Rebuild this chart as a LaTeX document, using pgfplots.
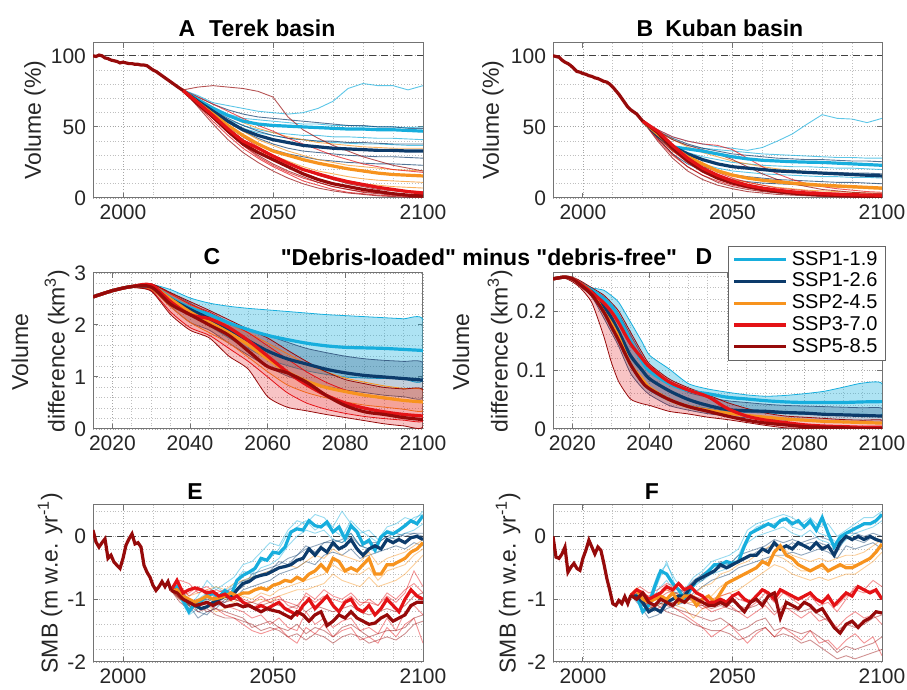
\documentclass[border=0pt]{standalone}
\usepackage{fontspec}
\setmainfont{Liberation Sans}
\usepackage{pgfplots}
\pgfplotsset{compat=1.18}
\usepackage{pgfplotstable}

\definecolor{clb}{RGB}{23,174,221}
\definecolor{cdb}{RGB}{12,59,107}
\definecolor{cor}{RGB}{247,147,30}
\definecolor{crd}{RGB}{228,18,22}
\definecolor{cdr}{RGB}{150,10,10}

\pgfplotsset{
  panel/.style={
    scale only axis, anchor=south west,
    axis line style={black!55, line width=0.5pt},
    tick style={black!55, line width=0.5pt},
    major tick length=2.5pt, minor tick length=0pt, tick align=inside,
    ticklabel style={font=\fontsize{10.5}{12}\selectfont, text=black!85},
    /pgf/number format/assume math mode=true,
    /pgf/number format/1000 sep={},
    grid=both,
    major grid style={black!35, densely dotted, line width=0.4pt},
    minor grid style={black!25, densely dotted, line width=0.4pt},
  },
  mean/.style={line width=1.6pt},
  band/.style={line width=0.4pt, smooth, tension=0.4, forget plot},
  zeroline/.style={black!75, dash pattern=on 3.5pt off 2.5pt, line width=0.5pt, forget plot},
}
% thin ensemble member: [opacity]{table}{colour}{column}
\newcommand{\thin}[4][0.7]{\addplot[#3, line width=0.45pt, opacity=#1, forget plot] table[x=x, y=#4] {#2};}

% ---------- A: Terek volume (%) ----------
\pgfplotstableread{
x a b c d m
2020 76 76 76 76 75.6
2025 72 70 68 67 69
2030 67 64 61 59 63
2035 65 59 55 53 58
2040 63 56 51 49 54
2045 61 55 48 46 52
2050 60 54 46 44 51
2055 59 53 45 42 50.5
2060 60 52 44 41 50
2065 63 52 44 40 49.5
2070 68 51 43 39 49
2075 77 51 43 38.5 48.5
2080 80.5 50.5 42.5 38 48.5
2085 79 50 42 38 48
2090 79 50 42 37.5 48
2095 76 49.5 41.5 37 47.5
2100 79 50 41 37 47
}\Alb
\pgfplotstableread{
x a b c d m
2020 76 76 76 76 75.6
2025 71 69 68 67 68
2030 66 62 60 58 61
2035 62 56 53 50 54
2040 59 51 47 43 48
2045 57 47 42 38 44
2050 56 44 38 34 41
2055 55 42 35 31 39
2060 54 41 33 29 37
2065 53 40 32 27 36
2070 52 40 31 26 35
2075 51 39 30 25 34.5
2080 51 39 29.5 24.5 34
2085 50 38.5 29 24 33.5
2090 50 38 29 24 33.5
2095 49 38 28.5 23.5 33
2100 49 38 28 23 33
}\Adb
\pgfplotstableread{
x a b c d m
2020 76 76 76 76 75.6
2025 70 68 67 66 67
2030 64 61 58 56 59
2035 58 54 49 47 51
2040 53 47 41 39 44
2045 49 41 35 33 38
2050 46 37 30 28 33
2055 43 33 26 24 30
2060 41 30 22 20 27
2065 39 27 19 17 24.5
2070 38 25 17 14 22.5
2075 37 23 15 12 20.5
2080 36 22 13.5 10 19
2085 35.5 21 12.5 9 17.5
2090 35 20 12 8 16.5
2095 35 19.5 11.5 7.5 16
2100 35 19 11 7 15.5
}\Aor
\pgfplotstableread{
x a b c d m
2020 76 76 76 76 75.6
2025 71 68 66 65 67
2030 66 60 56 54 58
2035 61 51 46 44 48.5
2040 56 43 37 35 40
2045 51 36 29 28 35
2050 47 30 23 22 29.5
2055 42 25 18 17 24.5
2060 38 20 14 12 20
2065 34 16 11 9 17
2070 30 13 8 6 14
2075 27 10.5 6 4 11.5
2080 24 8.5 4.5 3 9.5
2085 22 7 3.5 2 7.5
2090 20 6 2.5 1.5 6
2095 19 5 2 1 4.5
2100 18 4.5 1.5 0.5 3.5
}\Ard
\pgfplotstableread{
x a b c d m
2020 76 76 76 76 75.6
2025 78 66 64 67 66
2030 79 56 52 58 57
2035 78 46 41 49 47
2040 77 37 32 41 38
2045 75 30 25 35 32
2050 71 24 19 29 27
2055 57 19 14 24 22
2060 48 15 10 20 17
2065 42 11 7 16 13
2070 37 8 5 13 10
2075 33 6 3.5 10 8
2080 29 4 2.5 8 6
2085 26 3 1.5 6 4.5
2090 23 2 1 5 3
2095 21 1.5 0.5 4 2
2100 19 1 0.3 3.5 1.5
}\Adr

% ---------- B: Kuban volume (%) ----------
\pgfplotstableread{
x a b c d m
2020 54 54 54 54 54
2025 48 47 45 43 45
2030 43 41 37 34 36
2035 40 37 32 28 34.5
2040 38 35 29 24 33
2045 36 34 27 21 31
2050 35 33 25 19 29
2055 33.5 32 24 18 27.5
2060 35.5 31 23 17 26.5
2065 40 30.5 22.5 16.5 26
2070 45 30 22 16 25.5
2075 52 29.5 22 15.5 25.2
2080 58.6 29 21.5 15 25
2085 56 28.5 21 15 24.5
2090 55.5 28.5 21 14.5 24
2095 53 28 20.5 14.5 23.5
2100 56 28 20 14 23
}\Blb
\pgfplotstableread{
x a b c d m
2020 54 54 54 54 54
2025 47 45 43 42 44
2030 42 37 33 31 36
2035 38 31 27 24 31
2040 35 27 22 19 27
2045 33 24 19 15.5 24
2050 31 22 16.5 13 22
2055 30 21 15 11.5 21
2060 29 20 14 10.5 20
2065 28 19.5 13 10 19
2070 27.5 19 12.5 9.5 18.5
2075 27 18.5 12 9 18
2080 27 18 11.5 8.5 17.5
2085 26.5 18 11 8 17
2090 26 17.5 11 8 16.5
2095 26 17.5 10.5 7.5 16
2100 25.5 17 10 7 15.5
}\Bdb
\pgfplotstableread{
x a b c d m
2020 54 54 54 54 54
2025 47 45 43 44 45
2030 41 37 33 35 36
2035 36 30 26 28 29
2040 32 24 20 23 24
2045 29 20 16 19 19
2050 26 17 13 16 16
2055 24 14.5 11 13.5 14
2060 22 13 9 12 12.5
2065 20.5 11.5 7.5 10.5 11.5
2070 19.5 10.5 6.5 9.5 10.5
2075 18.5 9.5 5.5 8.5 9.7
2080 18 9 5 8 9
2085 17.5 8.5 4.5 7.5 8.5
2090 17 8 4 7 8
2095 16.5 7.5 3.5 6.5 7.5
2100 16 7 3.5 6 7
}\Bor
\pgfplotstableread{
x a b c d m
2020 54 54 54 54 54
2025 48 43 41 45 47
2030 43 33 30 36 37
2035 40 25 22 29 28
2040 38 19 16 23 21
2045 37 15 12 18 16
2050 34 12 9 14 12
2055 28 9.5 7 11 9
2060 22 7.5 5 9 7
2065 17 6 4 7 5.5
2070 13 5 3 6 4.3
2075 10 4 2 5 3.5
2080 8 3.5 1.5 4 3
2085 6.5 3 1 3.5 2.6
2090 5.5 2.5 1 3 2.3
2095 4.5 2 0.7 2.5 2.1
2100 4 2 0.5 2 1.9
}\Brd
\pgfplotstableread{
x a b c d m
2020 54 54 54 54 54
2025 47 42 40 44 46
2030 41 31 28 34 35
2035 37 22 19 26 26
2040 34 16 13 20 19
2045 31 11 9 15 14
2050 27 8 6.5 11 10.5
2055 22 6 4.5 8 8
2060 17 4.5 3.5 6 6
2065 13 3.5 2.5 4.5 4.5
2070 10 2.5 2 3.5 3.5
2075 8 2 1.5 2.5 2.7
2080 6 1.5 1 2 2.2
2085 5 1 0.7 1.5 1.8
2090 4 0.8 0.5 1.2 1.5
2095 3.5 0.6 0.4 1 1.2
2100 3 0.5 0.3 0.8 1
}\Bdr

% ---------- C / D: ensemble means of the volume difference (km3) ----------
\pgfplotstableread{
x lb db or rd dr
2015 2.54 2.54 2.54 2.54 2.54
2020 2.66 2.66 2.66 2.66 2.66
2025 2.74 2.74 2.74 2.74 2.74
2030 2.75 2.74 2.75 2.77 2.73
2035 2.52 2.50 2.50 2.45 2.40
2040 2.33 2.30 2.25 2.20 2.20
2045 2.20 2.12 2.05 2.12 2.00
2050 2.04 1.92 1.85 1.95 1.80
2055 1.91 1.70 1.62 1.70 1.50
2060 1.80 1.50 1.35 1.40 1.20
2065 1.72 1.35 1.10 1.10 1.08
2070 1.65 1.25 0.92 0.85 0.90
2075 1.60 1.15 0.80 0.65 0.65
2080 1.57 1.08 0.72 0.50 0.45
2085 1.56 1.03 0.65 0.40 0.33
2090 1.55 1.00 0.60 0.33 0.28
2095 1.53 0.97 0.55 0.28 0.22
2100 1.51 0.94 0.52 0.25 0.18
}\Cmean
\pgfplotstableread{
x lb db or rd dr
2015 0.255 0.255 0.255 0.255 0.255
2018 0.258 0.258 0.258 0.258 0.258
2020 0.255 0.255 0.255 0.255 0.255
2022 0.247 0.247 0.247 0.247 0.245
2025 0.236 0.233 0.232 0.232 0.228
2028 0.222 0.210 0.200 0.215 0.200
2030 0.210 0.190 0.180 0.200 0.175
2032 0.190 0.165 0.155 0.180 0.150
2035 0.150 0.125 0.110 0.145 0.110
2038 0.115 0.100 0.085 0.120 0.080
2040 0.098 0.085 0.070 0.105 0.068
2045 0.077 0.065 0.050 0.080 0.050
2050 0.065 0.050 0.038 0.066 0.038
2055 0.060 0.040 0.032 0.055 0.030
2060 0.054 0.033 0.027 0.035 0.022
2065 0.051 0.031 0.023 0.022 0.015
2070 0.048 0.030 0.020 0.015 0.010
2075 0.046 0.028 0.017 0.011 0.007
2080 0.045 0.027 0.015 0.007 0.004
2085 0.045 0.025 0.013 0.005 0.003
2090 0.045 0.024 0.012 0.004 0.002
2095 0.046 0.023 0.011 0.003 0.001
2100 0.0465 0.022 0.010 0.003 0.001
}\Dmean

% ---------- E / F: SMB means (2-yearly) ----------
\pgfplotstableread{
x lb db or rd dr
2016 -0.86 -0.86 -0.86 -0.86 -0.86
2018 -0.80 -0.85 -0.85 -0.70 -0.90
2020 -1.02 -0.95 -0.95 -0.90 -1.00
2022 -1.20 -1.05 -1.00 -0.85 -1.05
2024 -1.07 -1.10 -1.05 -0.82 -1.10
2026 -1.04 -1.15 -1.00 -0.85 -1.08
2028 -0.94 -1.12 -0.95 -0.90 -1.05
2030 -0.91 -1.05 -1.00 -0.88 -1.10
2032 -0.96 -1.00 -0.98 -0.95 -1.05
2034 -0.86 -0.95 -0.95 -0.92 -1.12
2036 -0.94 -0.98 -0.90 -1.00 -1.10
2038 -0.70 -0.85 -0.95 -0.95 -1.08
2040 -0.62 -0.75 -0.90 -1.05 -1.12
2042 -0.57 -0.72 -0.90 -1.10 -1.10
2044 -0.51 -0.65 -0.85 -1.15 -1.15
2046 -0.35 -0.62 -0.82 -1.10 -1.20
2048 -0.38 -0.60 -0.85 -1.15 -1.15
2050 -0.25 -0.55 -0.78 -1.10 -1.18
2052 -0.27 -0.50 -0.75 -1.05 -1.20
2054 -0.17 -0.48 -0.70 -1.15 -1.25
2056  0.07 -0.45 -0.72 -1.20 -1.30
2058  0.12 -0.38 -0.65 -1.25 -1.20
2060  0.10 -0.35 -0.70 -1.10 -1.25
2062  0.25 -0.20 -0.60 -1.00 -1.35
2064  0.17 -0.30 -0.55 -1.15 -1.25
2066  0.15 -0.18 -0.45 -1.05 -1.20
2068  0.23 -0.25 -0.55 -0.95 -1.42
2070  0.07 -0.10 -0.35 -1.10 -1.35
2072  0.15 -0.20 -0.40 -1.20 -1.25
2074 -0.04 -0.15 -0.55 -1.05 -1.30
2076  0.17 -0.05 -0.50 -1.00 -1.20
2078  0.07 -0.20 -0.55 -1.15 -1.30
2080 -0.12 -0.30 -0.45 -1.20 -1.35
2082 -0.06 -0.20 -0.35 -1.10 -1.40
2084 -0.22 -0.15 -0.60 -1.25 -1.38
2086 -0.01 -0.20 -0.60 -1.15 -1.30
2088  0.07 -0.05 -0.45 -1.00 -1.25
2090  0.04 -0.10 -0.45 -1.10 -1.35
2092  0.10 -0.05 -0.40 -1.20 -1.30
2094  0.17 -0.10 -0.35 -1.00 -1.25
2096  0.25 -0.02 -0.25 -0.85 -1.10
2098  0.20  0.00 -0.20 -0.95 -1.05
2100  0.33 -0.05 -0.10 -1.00 -1.05
}\Emean
\pgfplotstableread{
x lb db or rd dr
2016 -0.94 -0.94 -0.94 -0.94 -0.94
2018 -0.95 -0.95 -0.85 -0.85 -1.00
2020 -1.20 -1.05 -1.00 -0.90 -0.90
2022 -1.10 -1.20 -1.05 -1.00 -1.05
2024 -0.80 -1.15 -1.00 -0.95 -1.10
2026 -0.55 -1.20 -0.95 -0.90 -1.00
2028 -0.60 -1.05 -1.00 -0.80 -1.05
2030 -0.75 -1.00 -0.90 -0.85 -1.10
2032 -0.85 -0.95 -1.05 -0.75 -1.00
2034 -1.00 -0.95 -0.95 -0.85 -1.05
2036 -0.85 -0.80 -0.95 -0.80 -0.95
2038 -0.70 -0.70 -1.10 -0.90 -1.00
2040 -0.65 -0.65 -1.00 -0.95 -1.05
2042 -0.55 -0.60 -0.95 -1.05 -1.10
2044 -0.45 -0.55 -1.05 -1.05 -1.10
2046 -0.45 -0.45 -0.90 -1.00 -1.05
2048 -0.40 -0.50 -0.75 -1.05 -1.10
2050 -0.43 -0.45 -0.70 -0.95 -1.00
2052 -0.40 -0.40 -0.65 -0.90 -1.10
2054 -0.15 -0.35 -0.60 -1.00 -1.20
2056  0.05 -0.30 -0.55 -1.05 -1.05
2058  0.10 -0.30 -0.50 -0.95 -1.00
2060  0.15 -0.20 -0.40 -0.85 -1.10
2062  0.20 -0.25 -0.45 -0.90 -0.95
2064  0.15 -0.10 -0.25 -1.00 -0.90
2066  0.25 -0.20 -0.15 -0.85 -1.30
2068  0.28 -0.15 -0.30 -0.90 -1.05
2070  0.20 -0.20 -0.35 -0.95 -1.10
2072  0.25 -0.10 -0.45 -1.00 -1.15
2074  0.15 -0.15 -0.50 -0.95 -1.05
2076  0.25 -0.20 -0.55 -0.90 -1.10
2078  0.10 -0.10 -0.50 -1.00 -1.20
2080  0.30 -0.20 -0.45 -1.05 -1.15
2082  0.05 -0.15 -0.55 -0.95 -1.30
2084 -0.17 -0.30 -0.50 -1.10 -1.45
2086 -0.01 -0.10 -0.45 -1.00 -1.54
2088  0.05  0.00 -0.50 -0.90 -1.40
2090  0.10 -0.05 -0.50 -0.95 -1.35
2092  0.15  0.00 -0.45 -0.80 -1.45
2094  0.20 -0.05 -0.40 -0.85 -1.35
2096  0.20  0.00 -0.35 -0.90 -1.30
2098  0.25 -0.05 -0.25 -0.85 -1.20
2100  0.35 -0.08 -0.12 -1.00 -1.22
}\Fmean

% ---------- E members (3-yearly) ----------
\pgfplotstableread{
x a b c
2016 -0.86 -0.86 -0.86
2019 -0.80 -1.00 -0.85
2022 -1.10 -1.25 -1.15
2025 -0.95 -1.15 -1.00
2028 -0.70 -1.00 -0.90
2031 -0.85 -1.05 -0.80
2034 -0.75 -0.95 -0.90
2037 -0.65 -0.90 -0.75
2040 -0.45 -0.70 -0.55
2043 -0.40 -0.65 -0.60
2046 -0.25 -0.50 -0.40
2049 -0.10 -0.45 -0.35
2052 -0.15 -0.35 -0.20
2055 0.10 -0.15 0.05
2058 0.25 0.00 0.15
2061 0.20 0.10 0.25
2064 0.35 0.05 0.10
2067 0.30 0.10 0.20
2070 0.15 -0.05 0.10
2073 0.40 -0.10 0.00
2076 0.20 0.05 0.25
2079 0.05 -0.15 0.10
2082 0.10 -0.20 0.00
2085 -0.05 -0.25 -0.10
2088 0.15 -0.05 0.10
2091 0.20 0.00 0.05
2094 0.30 0.05 0.20
2097 0.25 0.10 0.30
2100 0.40 0.20 0.35
}\Elb
\pgfplotstableread{
x a b c
2016 -0.86 -0.86 -0.86
2019 -0.85 -0.95 -0.90
2022 -1.00 -1.10 -1.10
2025 -1.20 -1.30 -1.05
2028 -1.25 -1.20 -1.05
2031 -1.10 -1.15 -0.95
2034 -1.05 -1.00 -0.90
2037 -0.90 -1.00 -0.80
2040 -0.80 -0.85 -0.70
2043 -0.60 -0.80 -0.70
2046 -0.55 -0.75 -0.60
2049 -0.50 -0.70 -0.55
2052 -0.45 -0.60 -0.40
2055 -0.35 -0.55 -0.45
2058 -0.30 -0.50 -0.30
2061 -0.20 -0.40 -0.15
2064 -0.15 -0.45 -0.25
2067 -0.10 -0.30 -0.10
2070 -0.05 -0.25 -0.10
2073 -0.10 -0.30 -0.05
2076 0.00 -0.20 0.05
2079 -0.15 -0.35 -0.15
2082 -0.10 -0.30 -0.20
2085 -0.10 -0.25 -0.10
2088 0.00 -0.20 0.00
2091 -0.05 -0.15 0.05
2094 0.05 -0.20 0.00
2097 0.05 -0.10 0.05
2100 0.00 -0.15 0.05
}\Edb
\pgfplotstableread{
x a b c
2016 -0.86 -0.86 -0.86
2019 -0.80 -1.00 -0.90
2022 -0.95 -1.10 -1.05
2025 -0.90 -1.15 -1.00
2028 -0.85 -1.10 -1.05
2031 -0.80 -1.20 -0.95
2034 -0.85 -1.15 -1.00
2037 -0.75 -1.10 -1.05
2040 -0.70 -1.10 -0.95
2043 -0.65 -1.05 -1.00
2046 -0.60 -1.00 -0.90
2049 -0.55 -1.05 -0.95
2052 -0.50 -0.95 -0.85
2055 -0.45 -0.90 -0.80
2058 -0.50 -0.85 -0.75
2061 -0.40 -0.85 -0.70
2064 -0.30 -0.80 -0.65
2067 -0.35 -0.75 -0.60
2070 -0.20 -0.60 -0.45
2073 -0.30 -0.70 -0.55
2076 -0.35 -0.75 -0.60
2079 -0.40 -0.80 -0.60
2082 -0.25 -0.65 -0.50
2085 -0.45 -0.80 -0.70
2088 -0.35 -0.75 -0.55
2091 -0.30 -0.70 -0.50
2094 -0.25 -0.60 -0.45
2097 -0.15 -0.45 -0.30
2100 -0.05 -0.30 -0.20
}\Eor
\pgfplotstableread{
x a b c d
2016 -0.86 -0.86 -0.86 -0.86
2019 -0.70 -0.95 -1.00 -0.80
2022 -0.75 -0.90 -1.05 -0.95
2025 -0.90 -0.80 -1.00 -0.85
2028 -0.85 -0.95 -1.10 -0.80
2031 -1.00 -0.85 -1.15 -0.90
2034 -1.10 -0.90 -1.25 -0.85
2037 -1.15 -1.00 -1.30 -0.90
2040 -1.20 -1.05 -1.40 -1.00
2043 -1.30 -1.15 -1.50 -1.05
2046 -1.25 -1.05 -1.55 -0.95
2049 -1.40 -1.00 -1.50 -1.05
2052 -1.30 -0.95 -1.45 -1.00
2055 -1.45 -1.10 -1.60 -1.05
2058 -1.50 -1.15 -1.70 -1.10
2061 -1.20 -0.90 -1.45 -0.95
2064 -1.40 -1.00 -1.55 -1.05
2067 -1.30 -0.85 -1.40 -0.95
2070 -1.45 -0.95 -1.60 -1.00
2073 -1.35 -1.00 -1.50 -1.05
2076 -1.30 -0.90 -1.45 -0.95
2079 -1.50 -1.05 -1.65 -1.10
2082 -1.45 -1.05 -1.60 -1.00
2085 -1.55 -1.10 -1.70 -1.10
2088 -1.30 -0.90 -1.45 -0.95
2091 -1.50 -1.00 -1.60 -1.05
2094 -1.20 -0.85 -1.40 -0.90
2097 -1.10 -0.75 -1.30 -0.55
2100 -1.25 -0.90 -1.70 -0.80
}\Erd
\pgfplotstableread{
x a b c
2016 -0.86 -0.86 -0.86
2019 -1.00 -0.90 -1.05
2022 -1.10 -1.00 -1.15
2025 -1.20 -1.05 -1.10
2028 -1.15 -1.00 -1.20
2031 -1.25 -1.00 -1.15
2034 -1.30 -1.05 -1.20
2037 -1.30 -1.00 -1.25
2040 -1.35 -1.05 -1.30
2043 -1.40 -1.05 -1.45
2046 -1.50 -1.10 -1.40
2049 -1.45 -1.05 -1.35
2052 -1.50 -1.10 -1.45
2055 -1.60 -1.15 -1.50
2058 -1.55 -1.10 -1.40
2061 -1.65 -1.20 -1.55
2064 -1.55 -1.10 -1.45
2067 -1.60 -1.15 -1.50
2070 -1.70 -1.20 -1.60
2073 -1.60 -1.15 -1.45
2076 -1.55 -1.10 -1.40
2079 -1.60 -1.20 -1.50
2082 -1.70 -1.25 -1.60
2085 -1.65 -1.20 -1.55
2088 -1.60 -1.15 -1.50
2091 -1.65 -1.20 -1.50
2094 -1.55 -1.10 -1.45
2097 -1.40 -0.95 -1.30
2100 -1.35 -0.90 -1.25
}\Edr

% ---------- F members (3-yearly) ----------
\pgfplotstableread{
x a b c
2016 -0.94 -0.94 -0.94
2019 -0.90 -1.05 -1.00
2022 -1.00 -1.20 -1.10
2025 -0.60 -0.85 -0.75
2028 -0.45 -0.70 -0.40
2031 -0.70 -0.90 -0.80
2034 -0.85 -1.00 -0.90
2037 -0.65 -0.80 -0.75
2040 -0.55 -0.70 -0.60
2043 -0.40 -0.60 -0.50
2046 -0.35 -0.55 -0.45
2049 -0.30 -0.50 -0.45
2052 -0.20 -0.40 -0.30
2055 0.10 -0.10 0.00
2058 0.20 0.00 0.15
2061 0.25 0.05 0.20
2064 0.30 0.10 0.20
2067 0.35 0.15 0.30
2070 0.30 0.05 0.15
2073 0.20 0.00 0.10
2076 0.30 0.10 0.20
2079 0.15 -0.05 0.05
2082 0.20 -0.10 0.00
2085 0.00 -0.20 -0.10
2088 0.10 -0.05 0.05
2091 0.20 0.05 0.15
2094 0.30 0.10 0.20
2097 0.30 0.15 0.20
2100 0.40 0.25 0.35
}\Flb
\pgfplotstableread{
x a b c
2016 -0.94 -0.94 -0.94
2019 -1.00 -1.10 -1.05
2022 -1.15 -1.30 -1.20
2025 -1.10 -1.25 -1.05
2028 -1.00 -1.15 -1.10
2031 -0.90 -1.10 -0.95
2034 -0.85 -1.05 -0.90
2037 -0.70 -0.90 -0.75
2040 -0.60 -0.80 -0.70
2043 -0.50 -0.70 -0.55
2046 -0.40 -0.65 -0.50
2049 -0.45 -0.60 -0.50
2052 -0.30 -0.50 -0.40
2055 -0.25 -0.45 -0.35
2058 -0.20 -0.40 -0.25
2061 -0.15 -0.35 -0.20
2064 -0.05 -0.30 -0.15
2067 -0.10 -0.30 -0.20
2070 -0.05 -0.25 -0.10
2073 -0.10 -0.30 -0.15
2076 -0.05 -0.25 -0.10
2079 0.00 -0.20 -0.10
2082 -0.05 -0.25 -0.15
2085 -0.15 -0.35 -0.25
2088 0.05 -0.15 0.00
2091 0.05 -0.20 -0.05
2094 0.00 -0.15 -0.10
2097 0.05 -0.10 0.00
2100 0.00 -0.20 -0.10
}\Fdb
\pgfplotstableread{
x a b c
2016 -0.94 -0.94 -0.94
2019 -0.90 -1.05 -1.00
2022 -1.00 -1.15 -1.05
2025 -0.95 -1.10 -0.95
2028 -0.85 -1.05 -1.00
2031 -0.95 -1.10 -0.90
2034 -0.90 -1.15 -1.05
2037 -0.95 -1.30 -1.05
2040 -0.80 -1.15 -1.00
2043 -0.75 -1.10 -0.95
2046 -0.60 -0.95 -0.80
2049 -0.55 -0.90 -0.70
2052 -0.45 -0.85 -0.65
2055 -0.40 -0.75 -0.60
2058 -0.30 -0.65 -0.50
2061 -0.20 -0.55 -0.40
2064 -0.10 -0.45 -0.30
2067 -0.20 -0.50 -0.35
2070 -0.30 -0.60 -0.45
2073 -0.35 -0.65 -0.55
2076 -0.40 -0.70 -0.55
2079 -0.35 -0.65 -0.50
2082 -0.40 -0.70 -0.55
2085 -0.35 -0.65 -0.50
2088 -0.30 -0.60 -0.45
2091 -0.30 -0.60 -0.45
2094 -0.25 -0.50 -0.40
2097 -0.15 -0.40 -0.30
2100 -0.05 -0.25 -0.15
}\Forng
\pgfplotstableread{
x a b c d
2016 -0.94 -0.94 -0.94 -0.94
2019 -0.80 -0.95 -1.00 -0.90
2022 -0.90 -1.05 -1.10 -0.95
2025 -0.85 -1.00 -1.15 -0.90
2028 -0.75 -0.90 -1.05 -0.85
2031 -0.80 -0.85 -1.15 -0.90
2034 -0.90 -0.85 -1.25 -0.95
2037 -1.00 -0.95 -1.35 -1.05
2040 -1.10 -1.00 -1.45 -1.15
2043 -1.20 -1.00 -1.60 -1.10
2046 -1.15 -0.95 -1.50 -1.05
2049 -1.10 -0.90 -1.40 -1.00
2052 -1.20 -1.00 -1.55 -1.10
2055 -1.30 -1.05 -1.70 -1.15
2058 -1.20 -0.95 -1.55 -1.05
2061 -1.10 -0.85 -1.45 -0.90
2064 -1.25 -1.00 -1.60 -1.05
2067 -1.10 -0.85 -1.45 -0.90
2070 -1.20 -0.95 -1.55 -1.00
2073 -1.30 -1.00 -1.65 -1.10
2076 -1.20 -0.90 -1.50 -0.95
2079 -1.35 -1.05 -1.70 -1.10
2082 -1.30 -1.00 -1.65 -1.05
2085 -1.45 -1.10 -1.80 -1.20
2088 -1.30 -0.95 -1.65 -1.00
2091 -1.20 -0.85 -1.55 -0.80
2094 -1.30 -0.90 -1.70 -0.85
2097 -1.25 -0.85 -1.60 -0.70
2100 -1.40 -1.00 -1.90 -0.80
}\Frd
\pgfplotstableread{
x a b c
2016 -0.94 -0.94 -0.94
2019 -1.00 -0.90 -1.05
2022 -1.10 -1.00 -1.15
2025 -1.05 -1.00 -1.10
2028 -1.10 -1.05 -1.20
2031 -1.15 -1.05 -1.25
2034 -1.20 -1.05 -1.30
2037 -1.25 -1.10 -1.40
2040 -1.30 -1.10 -1.45
2043 -1.35 -1.15 -1.50
2046 -1.30 -1.10 -1.50
2049 -1.40 -1.15 -1.55
2052 -1.50 -1.20 -1.65
2055 -1.45 -1.15 -1.60
2058 -1.35 -1.10 -1.50
2061 -1.30 -1.00 -1.45
2064 -1.50 -1.20 -1.60
2067 -1.45 -1.15 -1.55
2070 -1.50 -1.15 -1.60
2073 -1.55 -1.20 -1.70
2076 -1.50 -1.15 -1.65
2079 -1.60 -1.25 -1.75
2082 -1.70 -1.35 -1.85
2085 -1.85 -1.50 -1.95
2088 -1.75 -1.40 -1.90
2091 -1.80 -1.45 -1.95
2094 -1.75 -1.40 -1.90
2097 -1.70 -1.30 -1.85
2100 -1.60 -1.25 -1.80
}\Fdr

\begin{document}
\begin{tikzpicture}
\useasboundingbox (0,0) rectangle (453.5pt,345pt);

% ================= A =================
\begin{axis}[panel, at={(46.5pt,246pt)}, width=165pt, height=77.5pt,
  xmin=1990, xmax=2100, ymin=0, ymax=109,
  xtick={2000,2050,2100}, ytick={0,50,100},
  minor xtick={2010,2020,2030,2040,2060,2070,2080,2090},
  minor ytick={10,20,30,40,60,70,80,90}]
\addplot[zeroline] coordinates {(1990,100) (2100,100)};
\thin{\Alb}{clb}{a}\thin{\Alb}{clb}{b}\thin{\Alb}{clb}{c}\thin{\Alb}{clb}{d}
\thin{\Adb}{cdb}{a}\thin{\Adb}{cdb}{b}\thin{\Adb}{cdb}{c}\thin{\Adb}{cdb}{d}
\thin{\Aor}{cor}{a}\thin{\Aor}{cor}{b}\thin{\Aor}{cor}{c}\thin{\Aor}{cor}{d}
\thin{\Ard}{crd}{a}\thin{\Ard}{crd}{b}\thin{\Ard}{crd}{c}\thin{\Ard}{crd}{d}
\thin{\Adr}{cdr}{a}\thin{\Adr}{cdr}{b}\thin{\Adr}{cdr}{c}\thin{\Adr}{cdr}{d}
\addplot[clb, mean] table[x=x, y=m] {\Alb};
\addplot[cdb, mean] table[x=x, y=m] {\Adb};
\addplot[cor, mean] table[x=x, y=m] {\Aor};
\addplot[cdr, mean] table[x=x, y=m] {\Adr};
\addplot[crd, mean] table[x=x, y=m] {\Ard};
\addplot[cdr, mean] coordinates {(1990,100) (1991,99.5) (1992,100.5) (1993,100) (1994,98.5) (1995,98) (1996,97) (1997,96.5) (1998,96) (1999,95) (2000,95.5) (2001,95) (2002,94.5) (2003,94.5) (2004,94) (2005,94) (2006,93.5) (2007,93.5) (2008,93) (2009,91.5) (2010,90) (2011,89) (2012,87.5) (2013,86) (2014,84.5) (2015,83) (2016,81.5) (2017,80) (2018,78.5) (2019,77) (2020,75.6)};
\end{axis}

% ================= B =================
\begin{axis}[panel, at={(276.5pt,246pt)}, width=164.5pt, height=77.5pt,
  xmin=1990, xmax=2100, ymin=0, ymax=109,
  xtick={2000,2050,2100}, ytick={0,50,100},
  minor xtick={2010,2020,2030,2040,2060,2070,2080,2090},
  minor ytick={10,20,30,40,60,70,80,90}]
\addplot[zeroline] coordinates {(1990,100) (2100,100)};
\thin{\Blb}{clb}{a}\thin{\Blb}{clb}{b}\thin{\Blb}{clb}{c}\thin{\Blb}{clb}{d}
\thin{\Bdb}{cdb}{a}\thin{\Bdb}{cdb}{b}\thin{\Bdb}{cdb}{c}\thin{\Bdb}{cdb}{d}
\thin{\Bor}{cor}{a}\thin{\Bor}{cor}{b}\thin{\Bor}{cor}{c}\thin{\Bor}{cor}{d}
\thin{\Brd}{crd}{a}\thin{\Brd}{crd}{b}\thin{\Brd}{crd}{c}\thin{\Brd}{crd}{d}
\thin{\Bdr}{cdr}{a}\thin{\Bdr}{cdr}{b}\thin{\Bdr}{cdr}{c}\thin{\Bdr}{cdr}{d}
\addplot[clb, mean] table[x=x, y=m] {\Blb};
\addplot[cdb, mean] table[x=x, y=m] {\Bdb};
\addplot[cor, mean] table[x=x, y=m] {\Bor};
\addplot[cdr, mean] table[x=x, y=m] {\Bdr};
\addplot[crd, mean] table[x=x, y=m] {\Brd};
\addplot[cdr, mean] coordinates {(1990,100) (1991,99.5) (1992,99) (1993,97) (1994,95.5) (1995,94.5) (1996,93) (1997,91) (1998,89) (1999,88.5) (2000,87.5) (2001,87) (2002,86) (2003,85.5) (2004,84.5) (2005,84) (2006,83) (2007,82) (2008,81.5) (2009,80) (2010,78) (2011,75.5) (2012,73) (2013,70) (2014,67) (2015,64) (2016,62) (2017,60.5) (2018,59) (2019,56.5) (2020,54)};
\end{axis}

% ================= C =================
% bands: upper bound forward, lower bound backward
\begin{axis}[panel, at={(46.5pt,130.5pt)}, width=165pt, height=78pt,
  xmin=2015, xmax=2100, ymin=0, ymax=3,
  xtick={2020,2040,2060,2080,2100}, ytick={0,1,2,3},
  minor xtick={2025,2030,2035,2045,2050,2055,2065,2070,2075,2085,2090,2095},
  minor ytick={0.2,0.4,0.6,0.8,1.2,1.4,1.6,1.8,2.2,2.4,2.6,2.8}]
\addplot[band, clb, fill=clb, fill opacity=0.35] coordinates {
 (2015,2.54) (2020,2.66) (2025,2.75) (2030,2.78) (2035,2.68) (2040,2.52) (2045,2.42) (2050,2.36) (2055,2.32) (2060,2.29) (2065,2.26) (2070,2.23) (2075,2.20) (2080,2.18) (2085,2.16) (2090,2.14) (2095,2.12) (2100,2.10)
 (2100,0.95) (2095,0.96) (2090,0.97) (2085,0.98) (2080,1.00) (2075,1.05) (2070,1.12) (2065,1.22) (2060,1.35) (2055,1.55) (2050,1.75) (2045,1.98) (2040,2.20) (2035,2.45) (2030,2.70) (2025,2.72) (2020,2.66) (2015,2.54)};
\addplot[band, cdb!80, fill=cdb, fill opacity=0.25] coordinates {
 (2015,2.54) (2020,2.66) (2025,2.75) (2030,2.78) (2035,2.62) (2040,2.42) (2045,2.22) (2050,2.05) (2055,1.92) (2060,1.80) (2065,1.67) (2070,1.55) (2075,1.47) (2080,1.40) (2085,1.35) (2090,1.32) (2095,1.30) (2100,1.27)
 (2100,0.60) (2095,0.62) (2090,0.65) (2085,0.70) (2080,0.75) (2075,0.82) (2070,0.90) (2065,1.02) (2060,1.20) (2055,1.42) (2050,1.65) (2045,1.90) (2040,2.05) (2035,2.35) (2030,2.68) (2025,2.72) (2020,2.66) (2015,2.54)};
\addplot[band, cor, fill=cor, fill opacity=0.15] coordinates {
 (2015,2.54) (2020,2.66) (2025,2.75) (2030,2.78) (2035,2.60) (2040,2.40) (2045,2.20) (2050,2.02) (2055,1.85) (2060,1.65) (2065,1.45) (2070,1.25) (2075,1.10) (2080,0.98) (2085,0.90) (2090,0.83) (2095,0.78) (2100,0.75)
 (2100,0.35) (2095,0.38) (2090,0.42) (2085,0.46) (2080,0.52) (2075,0.60) (2070,0.70) (2065,0.85) (2060,1.10) (2055,1.38) (2050,1.65) (2045,1.85) (2040,2.05) (2035,2.35) (2030,2.68) (2025,2.72) (2020,2.66) (2015,2.54)};
\addplot[band, crd, fill=crd, fill opacity=0.12] coordinates {
 (2015,2.54) (2020,2.66) (2025,2.75) (2030,2.79) (2035,2.60) (2040,2.40) (2045,2.25) (2050,2.05) (2055,1.85) (2060,1.60) (2065,1.35) (2070,1.10) (2075,0.90) (2080,0.75) (2085,0.65) (2090,0.58) (2095,0.55) (2100,0.52)
 (2100,0.15) (2095,0.17) (2090,0.20) (2085,0.24) (2080,0.30) (2075,0.38) (2070,0.50) (2065,0.70) (2060,1.00) (2055,1.30) (2050,1.55) (2045,1.80) (2040,1.95) (2035,2.25) (2030,2.66) (2025,2.72) (2020,2.66) (2015,2.54)};
\addplot[band, cdr, fill=crd, fill opacity=0.25] coordinates {
 (2015,2.54) (2020,2.66) (2025,2.75) (2030,2.79) (2035,2.62) (2040,2.45) (2045,2.28) (2050,2.10) (2055,1.92) (2060,1.75) (2065,1.52) (2070,1.30) (2075,1.10) (2080,0.95) (2085,0.87) (2090,0.80) (2095,0.77) (2100,0.75)
 (2100,0.04) (2095,0.06) (2090,0.10) (2085,0.16) (2080,0.22) (2075,0.28) (2070,0.35) (2065,0.42) (2060,0.62) (2055,1.15) (2050,1.40) (2045,1.75) (2040,1.90) (2035,2.20) (2030,2.65) (2025,2.72) (2020,2.66) (2015,2.54)};
\addplot[clb, mean, smooth] table[x=x, y=lb] {\Cmean};
\addplot[cdb, mean, smooth] table[x=x, y=db] {\Cmean};
\addplot[cor, mean, smooth] table[x=x, y=or] {\Cmean};
\addplot[crd, mean, smooth] table[x=x, y=rd] {\Cmean};
\addplot[cdr, mean, smooth] table[x=x, y=dr] {\Cmean};
\end{axis}

% ================= D =================
\begin{axis}[panel, at={(276.5pt,130.5pt)}, width=164.5pt, height=78pt,
  xmin=2015, xmax=2100, ymin=0, ymax=0.265,
  xtick={2020,2040,2060,2080,2100}, ytick={0,0.1,0.2},
  yticklabels={0,0.1,0.2},
  minor xtick={2025,2030,2035,2045,2050,2055,2065,2070,2075,2085,2090,2095},
  minor ytick={0.02,0.04,0.06,0.08,0.12,0.14,0.16,0.18,0.22,0.24,0.26},
  legend style={at={(1.012,1.175)}, anchor=north east, draw=black!60,
    line width=0.5pt, fill=white, font=\fontsize{10}{11}\selectfont,
    inner xsep=2pt, inner ysep=0.5pt, row sep=-1.6pt, cells={anchor=west}},
  legend image code/.code={\draw[#1, line width=1.6pt] (0pt,0pt) -- (26pt,0pt);}]
\addplot[band, clb, fill=clb, fill opacity=0.35] coordinates {
 (2015,0.255) (2018,0.258) (2020,0.256) (2022,0.250) (2025,0.240) (2028,0.236) (2030,0.227) (2032,0.215) (2035,0.182) (2038,0.148) (2040,0.125) (2045,0.102) (2050,0.077) (2055,0.068) (2060,0.0625) (2065,0.058) (2070,0.0556) (2075,0.057) (2080,0.060) (2085,0.064) (2090,0.071) (2095,0.078) (2100,0.077)
 (2100,0.025) (2095,0.025) (2090,0.025) (2085,0.025) (2080,0.025) (2075,0.026) (2070,0.027) (2065,0.028) (2060,0.030) (2055,0.035) (2050,0.040) (2045,0.048) (2040,0.065) (2038,0.080) (2035,0.110) (2032,0.150) (2030,0.175) (2028,0.200) (2025,0.228) (2022,0.244) (2020,0.254) (2018,0.258) (2015,0.255)};
\addplot[band, cdb!80, fill=cdb, fill opacity=0.25] coordinates {
 (2015,0.255) (2018,0.258) (2020,0.256) (2022,0.250) (2025,0.238) (2028,0.225) (2030,0.212) (2032,0.195) (2035,0.160) (2038,0.125) (2040,0.105) (2045,0.080) (2050,0.062) (2055,0.054) (2060,0.048) (2065,0.045) (2070,0.042) (2075,0.040) (2080,0.039) (2085,0.038) (2090,0.037) (2095,0.036) (2100,0.035)
 (2100,0.010) (2095,0.011) (2090,0.012) (2085,0.013) (2080,0.014) (2075,0.015) (2070,0.017) (2065,0.019) (2060,0.022) (2055,0.026) (2050,0.032) (2045,0.040) (2040,0.058) (2038,0.070) (2035,0.095) (2032,0.140) (2030,0.165) (2028,0.190) (2025,0.225) (2022,0.243) (2020,0.254) (2018,0.258) (2015,0.255)};
\addplot[band, cdr, fill=crd, fill opacity=0.25] coordinates {
 (2015,0.255) (2018,0.260) (2020,0.258) (2022,0.252) (2025,0.240) (2028,0.228) (2030,0.215) (2032,0.200) (2035,0.165) (2038,0.130) (2040,0.110) (2045,0.085) (2050,0.070) (2055,0.058) (2060,0.045) (2065,0.035) (2070,0.027) (2075,0.022) (2080,0.020) (2085,0.018) (2090,0.016) (2095,0.015) (2100,0.015)
 (2100,0) (2095,0) (2090,0) (2085,0) (2080,0.001) (2075,0.002) (2070,0.006) (2065,0.011) (2060,0.016) (2055,0.020) (2050,0.0255) (2045,0.030) (2040,0.040) (2038,0.043) (2035,0.051) (2032,0.080) (2030,0.115) (2028,0.160) (2025,0.215) (2022,0.240) (2020,0.250) (2018,0.256) (2015,0.255)};
\addplot[clb, mean, smooth] table[x=x, y=lb] {\Dmean};
\addlegendentry{SSP1-1.9}
\addplot[cdb, mean, smooth] table[x=x, y=db] {\Dmean};
\addlegendentry{SSP1-2.6}
\addplot[cor, mean, smooth] table[x=x, y=or] {\Dmean};
\addlegendentry{SSP2-4.5}
\addplot[crd, mean, smooth] table[x=x, y=rd] {\Dmean};
\addlegendentry{SSP3-7.0}
\addplot[cdr, mean, smooth] table[x=x, y=dr] {\Dmean};
\addlegendentry{SSP5-8.5}
\end{axis}

% ================= E =================
\begin{axis}[panel, at={(46.5pt,14pt)}, width=165pt, height=78.5pt,
  xmin=1990, xmax=2100, ymin=-2, ymax=0.5,
  xtick={2000,2050,2100}, ytick={-2,-1,0},
  minor xtick={2010,2020,2030,2040,2060,2070,2080,2090},
  minor ytick={-1.8,-1.6,-1.4,-1.2,-0.8,-0.6,-0.4,-0.2,0.2,0.4}]
\addplot[zeroline] coordinates {(1990,0) (2100,0)};
\thin[0.45]{\Elb}{clb}{a}\thin[0.45]{\Elb}{clb}{b}\thin[0.45]{\Elb}{clb}{c}
\thin[0.45]{\Edb}{cdb}{a}\thin[0.45]{\Edb}{cdb}{b}\thin[0.45]{\Edb}{cdb}{c}
\thin[0.45]{\Eor}{cor}{a}\thin[0.45]{\Eor}{cor}{b}\thin[0.45]{\Eor}{cor}{c}
\thin[0.45]{\Erd}{crd}{a}\thin[0.45]{\Erd}{crd}{b}\thin[0.45]{\Erd}{crd}{c}\thin[0.45]{\Erd}{crd}{d}
\thin[0.45]{\Edr}{cdr}{a}\thin[0.45]{\Edr}{cdr}{b}\thin[0.45]{\Edr}{cdr}{c}
\addplot[clb, mean] table[x=x, y=lb] {\Emean};
\addplot[cdb, mean] table[x=x, y=db] {\Emean};
\addplot[cor, mean] table[x=x, y=or] {\Emean};
\addplot[crd, mean] table[x=x, y=rd] {\Emean};
\addplot[cdr, mean] table[x=x, y=dr] {\Emean};
\addplot[cdr, mean] coordinates {(1990,0.1) (1991,-0.09) (1992,-0.17) (1993,-0.1) (1994,-0.04) (1995,-0.35) (1996,-0.3) (1997,-0.41) (1998,-0.46) (1999,-0.51) (2000,-0.35) (2001,-0.14) (2002,-0.04) (2003,0.04) (2004,-0.12) (2005,-0.1) (2006,-0.17) (2007,-0.46) (2008,-0.57) (2009,-0.65) (2010,-0.78) (2011,-0.86) (2012,-0.8) (2013,-0.72) (2014,-0.8) (2015,-0.72) (2016,-0.86)};
\end{axis}

% ================= F =================
\begin{axis}[panel, at={(276.5pt,14pt)}, width=164.5pt, height=78.5pt,
  xmin=1990, xmax=2100, ymin=-2, ymax=0.5,
  xtick={2000,2050,2100}, ytick={-2,-1,0},
  minor xtick={2010,2020,2030,2040,2060,2070,2080,2090},
  minor ytick={-1.8,-1.6,-1.4,-1.2,-0.8,-0.6,-0.4,-0.2,0.2,0.4}]
\addplot[zeroline] coordinates {(1990,0) (2100,0)};
\thin[0.45]{\Flb}{clb}{a}\thin[0.45]{\Flb}{clb}{b}\thin[0.45]{\Flb}{clb}{c}
\thin[0.45]{\Fdb}{cdb}{a}\thin[0.45]{\Fdb}{cdb}{b}\thin[0.45]{\Fdb}{cdb}{c}
\thin[0.45]{\Forng}{cor}{a}\thin[0.45]{\Forng}{cor}{b}\thin[0.45]{\Forng}{cor}{c}
\thin[0.45]{\Frd}{crd}{a}\thin[0.45]{\Frd}{crd}{b}\thin[0.45]{\Frd}{crd}{c}\thin[0.45]{\Frd}{crd}{d}
\thin[0.45]{\Fdr}{cdr}{a}\thin[0.45]{\Fdr}{cdr}{b}\thin[0.45]{\Fdr}{cdr}{c}
\addplot[clb, mean] table[x=x, y=lb] {\Fmean};
\addplot[cdb, mean] table[x=x, y=db] {\Fmean};
\addplot[cor, mean] table[x=x, y=or] {\Fmean};
\addplot[crd, mean] table[x=x, y=rd] {\Fmean};
\addplot[cdr, mean] table[x=x, y=dr] {\Fmean};
\addplot[cdr, mean] coordinates {(1990,0) (1991,-0.33) (1992,-0.35) (1993,-0.28) (1994,-0.17) (1995,-0.57) (1996,-0.49) (1997,-0.43) (1998,-0.51) (1999,-0.54) (2000,-0.35) (2001,-0.22) (2002,-0.06) (2003,-0.17) (2004,-0.28) (2005,-0.17) (2006,-0.22) (2007,-0.43) (2008,-0.67) (2009,-0.86) (2010,-1.07) (2011,-1.1) (2012,-1.02) (2013,-1.07) (2014,-0.96) (2015,-1.07) (2016,-0.94)};
\end{axis}

% ---------- titles and axis labels ----------
\begin{scope}[every node/.style={font=\fontsize{11.5}{13}\bfseries\selectfont, text=black}]
\node at (128.5pt,331pt) {A\hspace{7pt}Terek basin};
\node at (360pt,331pt) {B\hspace{6pt}Kuban basin};
\node at (106pt,216.5pt) {C};
\node at (239.5pt,216.5pt) {\textquotedbl Debris-loaded\textquotedbl{} minus \textquotedbl debris-free\textquotedbl};
\node at (352pt,216.5pt) {D};
\node at (97.5pt,99pt) {E};
\node at (326pt,99pt) {F};
\end{scope}
\begin{scope}[every node/.style={font=\fontsize{11.5}{13}\selectfont, text=black!85, rotate=90}]
\node at (17.5pt,285pt) {Volume (\%)};
\node at (246.5pt,285pt) {Volume (\%)};
\node at (10pt,169pt) {Volume};
\node at (28.5pt,169.5pt) {difference (km\textsuperscript{3})};
\node at (230.5pt,169pt) {Volume};
\node at (250pt,169.5pt) {difference (km\textsuperscript{3})};
\node at (25pt,53.5pt) {SMB (m w.e. yr\textsuperscript{-1})};
\node at (254pt,53.5pt) {SMB (m w.e. yr\textsuperscript{-1})};
\end{scope}
\end{tikzpicture}
\end{document}
